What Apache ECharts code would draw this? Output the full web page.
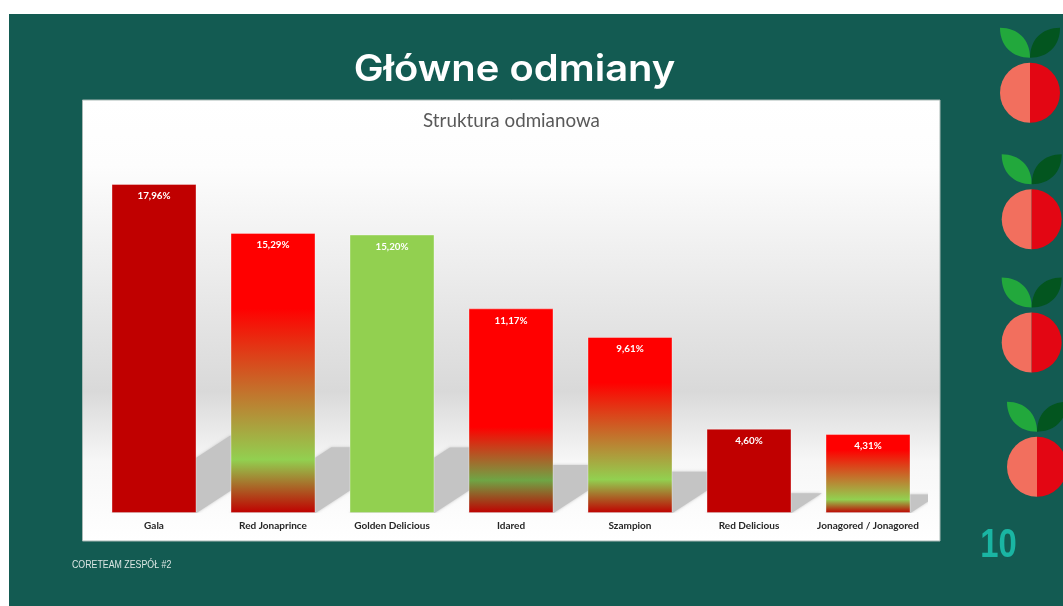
<!DOCTYPE html>
<html>
<head>
<meta charset="utf-8">
<title>Główne odmiany</title>
<script src="https://cdn.jsdelivr.net/npm/echarts@6/dist/echarts.min.js"></script>
<style>
html, body { margin: 0; padding: 0; background: #fff; }
#main { width: 1063px; height: 606px; }
</style>
</head>
<body>
<div id="main"></div>
<script>
'use strict';

var categories = ['Gala', 'Red Jonaprince', 'Golden Delicious', 'Idared', 'Szampion', 'Red Delicious', 'Jonagored / Jonagored'];
var shares = [17.96, 15.29, 15.20, 11.17, 9.61, 4.60, 4.31];

var RED = '#ff0000', DARK = '#c00000', GREEN = '#92d050';
var BAR_WIDTH = 85;

// kazdy slupek ma swoj gradient, [offset, kolor]
var barFills = [
    [[0, DARK], [1, DARK]],
    [[0, RED], [0.27, RED], [0.81, GREEN], [1, DARK]],
    [[0, GREEN], [1, GREEN]],
    [[0, RED], [0.58, RED], [0.84, '#6fa545'], [1, DARK]],
    [[0, RED], [0.26, RED], [0.81, GREEN], [1, DARK]],
    [[0, DARK], [1, DARK]],
    [[0, RED], [0.2, RED], [0.83, GREEN], [1, DARK]]
];

function fillOf(stops) {
    return new echarts.graphic.LinearGradient(0, 0, 0, 1, stops.map(function (s) {
        return { offset: s[0], color: s[1] };
    }));
}

// listek jablka, side = -1 lewy, 1 prawy
echarts.graphic.registerShape('leaf', echarts.graphic.extendShape({
    shape: { cx: 0, cy: 0, side: 1 },
    buildPath: function (ctx, s) {
        var d = s.side;
        ctx.moveTo(s.cx, s.cy - 35);
        ctx.bezierCurveTo(s.cx + d * 18, s.cy - 35, s.cx + d * 30, s.cy - 47, s.cx + d * 30, s.cy - 65);
        ctx.bezierCurveTo(s.cx + d * 12, s.cy - 65, s.cx, s.cy - 53, s.cx, s.cy - 35);
        ctx.closePath();
    }
}));

/** jablka po prawej */
var applePlaces = [[1030, 92.7], [1031.7, 219.3], [1031.7, 342.5], [1037, 466.7]];

function apple(p) {
    var cx = p[0], cy = p[1];
    return {
        type: 'group',
        children: [{
            type: 'sector', z: 1,
            shape: { cx: cx, cy: cy, r: 30, startAngle: Math.PI / 2, endAngle: Math.PI * 1.5 },
            style: { fill: '#f26f5e' }
        }, {
            type: 'sector', z: 1,
            shape: { cx: cx, cy: cy, r: 30, startAngle: -Math.PI / 2, endAngle: Math.PI / 2 },
            style: { fill: '#e30613' }
        }, {
            type: 'leaf', z: 1,
            shape: { cx: cx, cy: cy, side: -1 },
            style: { fill: '#22a83c' }
        }, {
            type: 'leaf', z: 1,
            shape: { cx: cx, cy: cy, side: 1 },
            style: { fill: '#03551f' }
        }]
    };
}

var chart = echarts.init(document.getElementById('main'));

var option = {
    animation: false,
    backgroundColor: '#fff',
    title: {
        text: 'Struktura odmianowa',
        left: 506.5,
        top: 106,
        textAlign: 'center',
        textStyle: { fontFamily: 'Lato', fontWeight: 400, fontSize: 18.8, color: '#595959' }
    },
    graphic: {
        elements: [{
            type: 'rect', z: 0,
            shape: { x: 9, y: 14, width: 1054, height: 592 },
            style: { fill: '#135b52' }
        }, {
            type: 'rect', z: 0,
            shape: { x: 82.5, y: 100, width: 857.5, height: 441 },
            style: {
                fill: new echarts.graphic.LinearGradient(0, 0, 0, 1, [
                    { offset: 0, color: '#ffffff' },
                    { offset: 0.15, color: '#fdfdfd' },
                    { offset: 0.66, color: '#d9d9d9' },
                    { offset: 0.82, color: '#f7f7f7' },
                    { offset: 1, color: '#ffffff' }
                ]),
                stroke: '#a9b9b5',
                lineWidth: 1
            }
        }, {
            type: 'text', z: 1,
            x: 514.5, y: 70, scaleX: 1.08,
            style: {
                text: 'Główne odmiany', align: 'center', verticalAlign: 'middle',
                font: '600 37px Inter', fill: '#fff'
            }
        }, {
            type: 'text', z: 1,
            x: 72, y: 565, scaleX: 0.8,
            style: {
                text: 'CORETEAM ZESPÓŁ #2', verticalAlign: 'middle',
                font: '11px "Liberation Sans"', fill: '#dbe6e3'
            }
        }, {
            type: 'text', z: 1,
            x: 998.5, y: 546, scaleX: 0.8,
            style: {
                text: '10', align: 'center', verticalAlign: 'middle',
                font: 'bold 41px "Liberation Sans"', fill: '#1ab5a3'
            }
        }].concat(applePlaces.map(apple))
    },
    grid: { left: 94.5, width: 833, top: 146.6, height: 366.4 },
    xAxis: {
        type: 'category',
        data: categories,
        axisLine: { show: false },
        axisTick: { show: false },
        axisLabel: {
            interval: 0,
            margin: 8,
            fontFamily: 'Lato',
            fontWeight: 700,
            fontSize: 10,
            color: '#262626'
        }
    },
    yAxis: { type: 'value', min: 0, max: 20, show: false },
    series: [{
        // cien pod slupkami
        type: 'custom',
        clip: true,
        z: 1,
        silent: true,
        encode: { x: 0, y: 1 },
        data: shares.map(function (v, i) { return [i, v]; }),
        renderItem: function (params, api) {
            var base = api.coord([api.value(0), 0]);
            var top = api.coord([api.value(0), api.value(1)]);
            var h = base[1] - top[1];
            var rise = h * 0.235, run = h * 0.36;
            var x1 = base[0] - BAR_WIDTH / 2, x2 = base[0] + BAR_WIDTH / 2;
            return {
                type: 'polygon',
                shape: {
                    points: [
                        [x1, base[1]], [x2, base[1]],
                        [x2 + run, base[1] - rise], [x1 + run, base[1] - rise]
                    ]
                },
                style: { fill: '#c4c4c4', shadowBlur: 3, shadowColor: '#c4c4c4' }
            };
        }
    }, {
        type: 'bar',
        z: 2,
        barWidth: BAR_WIDTH,
        data: shares.map(function (v, i) {
            return {
                value: v,
                itemStyle: {
                    color: fillOf(barFills[i]),
                    borderColor: 'rgba(255,255,255,0.35)',
                    borderWidth: 1
                }
            };
        }),
        label: {
            show: true,
            position: 'insideTop',
            distance: 7,
            fontFamily: 'Lato',
            fontWeight: 700,
            fontSize: 9.8,
            color: '#fff',
            formatter: function (p) {
                return p.value.toFixed(2).replace('.', ',') + '%';
            }
        }
    }]
};

chart.setOption(option);
</script>
</body>
</html>
